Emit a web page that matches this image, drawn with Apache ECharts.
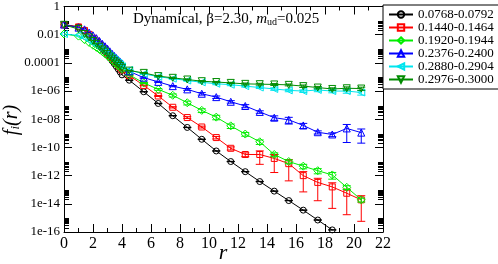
<!DOCTYPE html>
<html><head><meta charset="utf-8">
<script src="https://cdn.jsdelivr.net/npm/echarts@6/dist/echarts.min.js"></script>
<style>html,body{margin:0;padding:0;background:#fff}#c{width:498px;height:264px}</style>
</head><body><div id="c"></div>
<script>
// distances r (dense region then half-integer bins)
const rValues = [0, 1, 1.414, 1.732, 2, 2.236, 2.449, 2.646, 2.828, 3, 3.162, 3.317, 3.464, 3.606, 3.742, 3.873, 4,
  4.5, 5.5, 6.5, 7.5, 8.5, 9.5, 10.5, 11.5, 12.5, 13.5, 14.5, 15.5, 16.5, 17.5, 18.5, 19.5, 20.5];
const seriesNames = ['0.0768-0.0792', '0.1440-0.1464', '0.1920-0.1944', '0.2376-0.2400', '0.2880-0.2904', '0.2976-0.3000'];
const fBlack = [5.25e-2, 3.55e-2, 1.78e-2, 8.91e-3, 4.47e-3, 2.82e-3, 1.58e-3, 1.00e-3, 6.31e-4, 3.55e-4, 2.24e-4, 1.41e-4, 8.91e-5, 5.62e-5, 3.55e-5, 2.24e-5, 1.41e-5,
  5.89e-6, 8.91e-7, 1.32e-7, 1.78e-8, 2.63e-9, 3.80e-10, 5.62e-11, 1.00e-11, 1.91e-12, 3.80e-13, 7.94e-14, 1.70e-14, 3.55e-15, 7.08e-16, 1.41e-16, null, null];
const fRed = [5.01e-2, 3.55e-2, 2.00e-2, 1.05e-2, 5.62e-3, 3.55e-3, 2.09e-3, 1.32e-3, 8.91e-4, 5.25e-4, 3.55e-4, 2.40e-4, 1.58e-4, 1.05e-4, 7.08e-5, 4.79e-5, 3.16e-5,
  1.26e-5, 2.51e-6, 4.47e-7, 7.08e-8, 1.32e-8, 2.82e-9, 5.01e-10, 8.71e-11, 3.16e-11, 3.16e-11, 1.66e-11, 7.08e-12, 1.00e-12, 3.31e-13, 1.58e-13, 5.62e-14, 1.91e-14];
const fLime = [1.12e-2, 7.94e-3, 4.47e-3, 2.82e-3, 1.78e-3, 1.26e-3, 8.91e-4, 6.31e-4, 4.47e-4, 3.16e-4, 2.24e-4, 1.58e-4, 1.12e-4, 8.32e-5, 6.31e-5, 4.79e-5, 3.55e-5,
  1.41e-5, 3.80e-6, 1.32e-6, 5.01e-7, 1.48e-7, 4.27e-8, 1.41e-8, 3.39e-9, 8.91e-10, 2.51e-10, 3.16e-11, 1.00e-11, 4.68e-12, 2.24e-12, 1.12e-12, 1.48e-13, 1.91e-14];
const fBlue = [5.25e-2, 3.16e-2, 2.40e-2, 1.41e-2, 8.91e-3, 5.62e-3, 3.55e-3, 2.24e-3, 1.51e-3, 1.00e-3, 6.61e-4, 4.47e-4, 3.16e-4, 2.24e-4, 1.58e-4, 1.20e-4, 8.91e-5,
  2.51e-5, 8.91e-6, 4.47e-6, 2.24e-6, 1.32e-6, 6.46e-7, 3.72e-7, 1.74e-7, 8.71e-8, 3.31e-8, 1.29e-8, 9.12e-9, 3.63e-9, 1.20e-9, 8.32e-10, 2.24e-9, 1.12e-9];
const fCyan = [1.12e-2, 8.91e-3, 6.31e-3, 3.98e-3, 2.51e-3, 1.78e-3, 1.26e-3, 8.91e-4, 6.31e-4, 4.47e-4, 3.16e-4, 2.40e-4, 1.78e-4, 1.32e-4, 1.00e-4, 7.59e-5, 5.62e-5,
  3.16e-5, 1.66e-5, 1.05e-5, 7.59e-6, 5.62e-6, 4.17e-6, 3.31e-6, 2.82e-6, 2.24e-6, 1.78e-6, 1.41e-6, 1.12e-6, 1.00e-6, 1.20e-6, 1.00e-6, 1.00e-6, 7.94e-7];
const fDkGreen = [5.01e-2, 2.51e-2, 1.12e-2, 6.31e-3, 3.55e-3, 2.24e-3, 1.41e-3, 8.91e-4, 6.31e-4, 4.17e-4, 2.82e-4, 2.00e-4, 1.41e-4, 1.05e-4, 7.94e-5, 6.03e-5, 4.47e-5,
  2.82e-5, 1.95e-5, 1.15e-5, 8.71e-6, 6.61e-6, 5.01e-6, 4.37e-6, 3.80e-6, 3.24e-6, 3.09e-6, 2.95e-6, 2.75e-6, 2.24e-6, 1.78e-6, 1.41e-6, 1.58e-6, 1.51e-6];
// relative errors for the r = 4.5 ... 20.5 points
const errBlack = [0.03, 0.03, 0.03, 0.03, 0.03, 0.03, 0.03, 0.03, 0.03, 0.03, 0.03, 0.03, 0.03, 0.03, 0.03, 0, 0];
const errRed = [0.05, 0.05, 0.08, 0.1, 0.15, 0.15, 0.2, 0.25, 0.3, 0.8, 0.9, 0.94, 0.93, 0.95, 0.97, 0.97, 0.97];
const errLime = [0.05, 0.1, 0.15, 0.25, 0.3, 0.3, 0.35, 0.35, 0.3, 0.35, 0.3, 0.3, 0.35, 0.4, 0.5, 0.3, 0.3];
const errBlue = [0.05, 0.1, 0.1, 0.1, 0.15, 0.2, 0.2, 0.2, 0.25, 0.2, 0.35, 0.5, 0.4, 0.25, 0.3, 0.9, 0.82];
const errCyan = [0.05, 0.1, 0.1, 0.1, 0.1, 0.1, 0.15, 0.15, 0.15, 0.15, 0.2, 0.2, 0.2, 0.25, 0.25, 0.3, 0.35];
const errDkGreen = [0.05, 0.05, 0.1, 0.1, 0.1, 0.1, 0.1, 0.1, 0.15, 0.15, 0.15, 0.15, 0.2, 0.2, 0.2, 0.25, 0.25];
const xTickValues = [0, 2, 4, 6, 8, 10, 12, 14, 16, 18, 20, 22];
const yTickLabels = ['1e-16', '1e-14', '1e-12', '1e-10', '1e-08', '1e-06', '0.0001', '0.01', '1'];

const FONT = 'Liberation Serif';
const allF = [fBlack, fRed, fLime, fBlue, fCyan, fDkGreen];
const allErr = [errBlack, errRed, errLime, errBlue, errCyan, errDkGreen];
const colors = ['#000000', '#ff0000', '#00ee00', '#0000ff', '#00e5ee', '#008b00'];
const symbols = ['circle', 'rect', 'diamond', 'triangle', 'triangle', 'triangle'];
const rotates = [0, 0, 0, 0, 90, 180];
const sizes = [6, 6, 8, 7, 7, 7];
const denseCount = 17;

// minor ticks: k * 10^(2n)
const minorY = [];
for (let n = -8; n <= -1; n++) for (let k = 2; k <= 9; k++) minorY.push(k * Math.pow(10, 2 * n));

const series = [];
allF.forEach((f, i) => {
  series.push({
    type: 'line', name: seriesNames[i], xAxisIndex: 0, yAxisIndex: 0,
    data: rValues.map((r, j) => [r, f[j]]).filter(d => d[1] != null),
    symbol: symbols[i], symbolRotate: rotates[i], symbolSize: sizes[i],
    lineStyle: { color: colors[i], width: 1 },
    itemStyle: { color: 'rgba(255,255,255,0)', borderColor: colors[i], borderWidth: 1 },
    emphasis: { disabled: true }, z: 3 + i, clip: true
  });
  const ed = [];
  allErr[i].forEach((e, j) => {
    const v = f[denseCount + j];
    if (v != null && e > 0) ed.push([rValues[denseCount + j], v * (1 - e), v * (1 + e)]);
  });
  const col = colors[i];
  series.push({
    type: 'custom', xAxisIndex: 0, yAxisIndex: 0, clip: true, z: 3 + i,
    data: ed, encode: { x: 0, y: [1, 2] },
    renderItem: function (params, api) {
      const x = api.value(0), lo = api.value(1), hi = api.value(2);
      const pt = api.coord([x, hi]), pb = api.coord([x, lo]);
      const w = 4;
      const st = { stroke: col, lineWidth: 1 };
      return { type: 'group', children: [
        { type: 'line', shape: { x1: pt[0], y1: pt[1], x2: pb[0], y2: pb[1] }, style: st },
        { type: 'line', shape: { x1: pt[0] - w, y1: pt[1], x2: pt[0] + w, y2: pt[1] }, style: st },
        { type: 'line', shape: { x1: pb[0] - w, y1: pb[1], x2: pb[0] + w, y2: pb[1] }, style: st }
      ] };
    }
  });
});

const logAxisBase = { type: 'log', logBase: 10, min: 1e-16, max: 1, interval: 2, splitLine: { show: false } };
function yLabel(v) {
  const e = Math.round(Math.log10(v));
  const idx = (e + 16) / 2;
  return yTickLabels[idx] !== undefined ? yTickLabels[idx] : '';
}

const option = {
  animation: false,
  backgroundColor: '#fff',
  grid: { left: 64, right: 115, top: 5, bottom: 32, containLabel: false },
  xAxis: [
    { type: 'value', min: 0, max: 22, interval: 2, position: 'bottom',
      axisLine: { lineStyle: { color: '#000', width: 1 } },
      axisTick: { inside: true, length: 8, lineStyle: { color: '#000' } },
      minorTick: { show: true, splitNumber: 2, length: 4, lineStyle: { color: '#000' } },
      axisLabel: { color: '#000', fontFamily: FONT, fontSize: 16, margin: 4,
        formatter: v => (xTickValues.indexOf(v) >= 0 ? String(v) : '') },
      splitLine: { show: false } },
    { type: 'value', min: 0, max: 22, interval: 2, position: 'top',
      axisLine: { lineStyle: { color: '#000', width: 1 } },
      axisTick: { inside: true, length: 8, lineStyle: { color: '#000' } },
      minorTick: { show: true, splitNumber: 2, length: 4, lineStyle: { color: '#000' } },
      axisLabel: { show: false }, splitLine: { show: false } }
  ],
  yAxis: [
    Object.assign({}, logAxisBase, { position: 'left',
      axisLine: { show: true, lineStyle: { color: '#000', width: 1 } },
      axisTick: { show: true, inside: true, length: 8, lineStyle: { color: '#000' } },
      axisLabel: { color: '#000', fontFamily: FONT, fontSize: 13, margin: 4, formatter: yLabel } }),
    Object.assign({}, logAxisBase, { position: 'left',
      axisLine: { show: false },
      axisTick: { show: true, inside: true, length: 5, customValues: minorY, lineStyle: { color: '#000' } },
      axisLabel: { show: false } }),
    Object.assign({}, logAxisBase, { position: 'right',
      axisLine: { show: true, lineStyle: { color: '#000', width: 1 } },
      axisTick: { show: true, inside: true, length: 8, lineStyle: { color: '#000' } },
      axisLabel: { show: false } }),
    Object.assign({}, logAxisBase, { position: 'right',
      axisLine: { show: false },
      axisTick: { show: true, inside: true, length: 5, customValues: minorY, lineStyle: { color: '#000' } },
      axisLabel: { show: false } })
  ],
  legend: {
    orient: 'vertical', left: 383, top: 5, padding: [3, 6, 3, 5], itemGap: 0,
    itemWidth: 24, itemHeight: 8, borderColor: '#000', borderWidth: 1, borderRadius: 0,
    backgroundColor: '#fff', selectedMode: false,
    data: seriesNames,
    textStyle: { fontFamily: FONT, fontSize: 13, color: '#000', lineHeight: 13 }
  },
  graphic: [
    { type: 'text', left: 133, top: 12, z: 100,
      style: { text: '{a|Dynamical, β=2.30, }{i|m}{s|ud}{a|=0.025}', fill: '#000',
        rich: {
          a: { fontFamily: FONT, fontSize: 15, fill: '#000' },
          i: { fontFamily: FONT, fontSize: 15, fontStyle: 'italic', fill: '#000' },
          s: { fontFamily: FONT, fontSize: 10, fill: '#000', padding: [6, 0, 0, 0] }
        } } },
    { type: 'text', x: 223, y: 253, z: 100,
      style: { text: 'r', fontFamily: FONT, fontSize: 22, fontStyle: 'italic', fill: '#000', align: 'center', verticalAlign: 'middle' } },
    { type: 'text', x: 12, y: 120, rotation: Math.PI / 2, z: 100,
      style: { text: '{i|f}{s|i}{i|(r)}', align: 'center', verticalAlign: 'middle',
        rich: {
          i: { fontFamily: FONT, fontSize: 20, fontStyle: 'italic', fill: '#000' },
          s: { fontFamily: FONT, fontSize: 13, fontStyle: 'italic', fill: '#000', padding: [8, 0, 0, 0] }
        } } }
  ],
  series: series
};
const chart = echarts.init(document.getElementById('c'), null, { renderer: 'canvas' });
chart.setOption(option);
</script></body></html>
